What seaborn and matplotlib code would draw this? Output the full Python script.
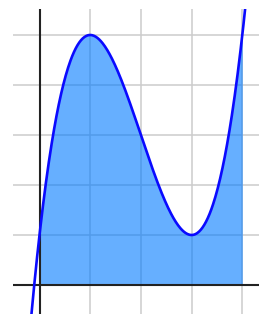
import numpy as np
import pandas as pd
import matplotlib
matplotlib.use("Agg")
import matplotlib.pyplot as plt
import seaborn as sns

# cubic: max (1, 5), min (3, 1), passes (0, 1)
coeffs = [1, -6, 9, 1]
curve_range = [-0.3, 4.3]
fill_range = [0, 4]
grid_x = [1, 2, 3, 4]
grid_y = [1, 2, 3, 4, 5]

sns.set_style("white")

xs = np.linspace(curve_range[0], curve_range[1], 400)
df = pd.DataFrame({"x": xs, "y": np.polyval(coeffs, xs)})
xf = np.linspace(fill_range[0], fill_range[1], 400)
yf = np.polyval(coeffs, xf)

fig = plt.figure(figsize=(2.59, 3.14), dpi=100)
ax = fig.add_axes([13/259, 0, 1 - 13/259, 305/314])

for gx in grid_x:
    ax.axvline(gx, color='#cccccc', lw=1.1, zorder=0)
for gy in grid_y:
    ax.axhline(gy, color='#cccccc', lw=1.1, zorder=0)

ax.fill_between(xf, 0, yf, color='#007aff', alpha=0.6, lw=0, zorder=1)
sns.lineplot(data=df, x="x", y="y", ax=ax, color='#0a0aff', lw=1.9, zorder=3, sort=False)

ax.axhline(0, color='#222222', lw=1.5, zorder=2)
ax.axvline(0, color='#222222', lw=1.5, zorder=2)

ax.set_xlim(-26.5/50.7, 219.5/50.7)
ax.set_ylim(-29/50, 276/50)
ax.set_xticks([])
ax.set_yticks([])
ax.set_xlabel("")
ax.set_ylabel("")
for s in ax.spines.values():
    s.set_visible(False)

fig.savefig("out.png", dpi=100)
